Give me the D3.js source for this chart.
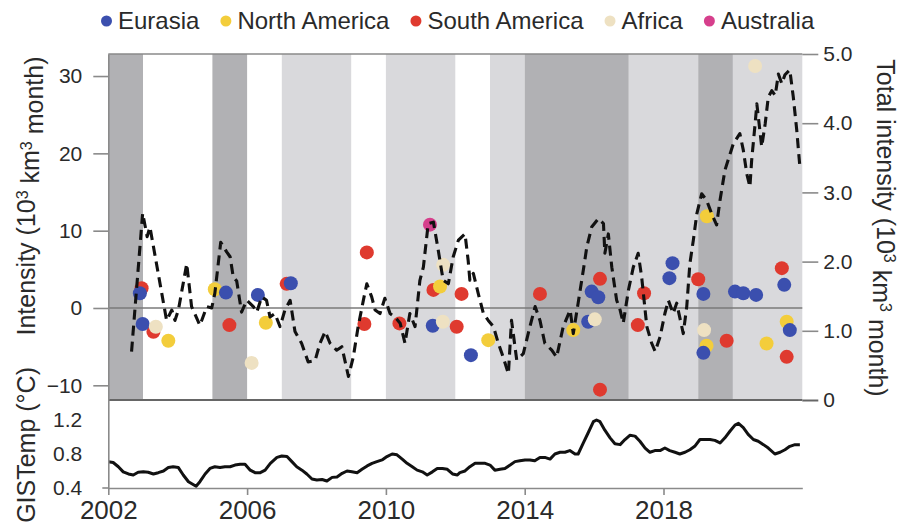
<!DOCTYPE html>
<html><head><meta charset="utf-8">
<script src="https://cdn.jsdelivr.net/npm/d3@7"></script>
<style>
body{margin:0;background:#fff}
svg{display:block}
text{font-family:"Liberation Sans",Arial,Helvetica,sans-serif}
</style>
</head><body>
<svg id="chart" width="903" height="525"></svg>
<script>
// ---------- data ----------
const regions = ["Eurasia","North America","South America","Africa","Australia"];

const eurasiaYears  = [2002.91,2002.99,2005.39,2006.31,2007.26,2011.35,2012.45,2015.83,2015.93,2016.12,2018.17,2018.26,2019.15,2019.15,2020.06,2020.30,2020.67,2021.48,2021.64];
const eurasiaValues = [1.91,-2.08,1.99,1.69,3.2,-2.29,-6.1,-1.78,2.12,1.39,3.86,5.8,1.82,-5.8,2.12,1.91,1.69,2.99,-2.86];

const northAmericaYears  = [2003.73,2005.07,2006.54,2011.56,2012.95,2015.40,2019.25,2019.24,2020.97,2021.55];
const northAmericaValues = [-4.24,2.42,-1.90,2.77,-4.16,-2.86,11.86,-4.89,-4.59,-1.78];

const southAmericaYears  = [2002.96,2003.30,2005.49,2007.14,2009.38,2009.45,2010.39,2011.37,2012.04,2012.18,2014.44,2016.17,2016.17,2017.26,2017.44,2019.00,2019.82,2021.41,2021.55];
const southAmericaValues = [2.56,-3.08,-2.21,3.12,-2.08,7.19,-1.99,2.34,-2.42,1.82,1.82,3.77,-10.56,-2.21,1.91,3.72,-4.24,5.15,-6.32];

const africaYears  = [2003.37,2006.13,2011.64,2011.65,2016.02,2019.17,2020.64];
const africaValues = [-2.43,-7.10,-1.78,5.58,-1.47,-2.86,31.3];

const australiaYears  = [2011.27];
const australiaValues = [10.78];

const totalYears = [2002.67,2002.99,2003.12,2003.20,2003.68,2003.83,2003.92,2004.02,2004.26,2004.40,2004.64,2004.84,2004.98,2005.07,2005.24,2005.41,2005.51,2005.60,2005.70,2005.84,2005.99,2006.18,2006.28,2006.42,2006.56,2006.66,2006.80,2006.95,2007.09,2007.24,2007.38,2007.57,2007.76,2007.96,2008.10,2008.25,2008.39,2008.58,2008.73,2008.92,2009.06,2009.20,2009.35,2009.45,2009.59,2009.69,2009.83,2009.97,2010.12,2010.26,2010.41,2010.55,2010.69,2010.84,2010.98,2011.08,2011.22,2011.37,2011.51,2011.65,2011.80,2011.94,2012.09,2012.28,2012.37,2012.42,2012.52,2012.66,2012.81,2012.95,2013.10,2013.24,2013.38,2013.53,2013.62,2013.77,2013.96,2014.15,2014.30,2014.44,2014.58,2014.78,2014.92,2015.11,2015.31,2015.40,2015.54,2015.69,2015.79,2015.93,2016.12,2016.27,2016.31,2016.41,2016.51,2016.65,2016.75,2016.84,2016.99,2017.13,2017.27,2017.37,2017.52,2017.66,2017.76,2017.90,2018.04,2018.14,2018.28,2018.38,2018.57,2018.67,2018.76,2018.86,2018.96,2019.10,2019.24,2019.39,2019.53,2019.63,2019.77,2020.01,2020.20,2020.30,2020.40,2020.49,2020.54,2020.64,2020.69,2020.83,2020.93,2021.02,2021.12,2021.22,2021.31,2021.41,2021.50,2021.64,2021.74,2021.84,2021.93];
const totalValues = [0.70,2.70,2.36,2.50,1.15,1.30,1.15,1.30,1.97,1.35,1.08,1.35,1.33,1.54,2.28,2.14,2.07,1.78,1.72,1.27,1.44,1.35,1.27,1.49,1.44,1.20,1.25,1.06,1.30,1.44,0.99,0.82,0.55,0.57,0.82,0.99,0.82,0.72,0.77,0.34,0.62,1.06,1.44,1.68,1.49,1.30,1.25,1.47,1.25,1.20,1.11,0.82,1.25,1.06,1.73,1.92,2.55,2.57,2.16,1.73,1.68,2.07,2.31,2.40,2.02,1.73,1.83,1.54,1.25,1.15,1.06,0.82,0.62,0.38,1.15,0.58,0.67,1.06,1.35,1.15,0.82,0.72,0.62,1.06,1.30,0.96,1.40,1.88,2.21,2.50,2.62,2.55,2.12,2.40,1.92,1.44,1.30,1.11,1.59,1.92,2.12,1.78,1.06,0.82,0.70,0.91,1.25,1.44,1.25,1.40,0.96,1.35,1.97,2.31,2.69,2.98,2.89,2.69,2.53,2.89,3.32,3.70,3.85,3.61,3.27,3.08,3.46,3.99,4.28,3.66,3.99,4.38,4.47,4.40,4.71,4.57,4.70,4.77,4.38,3.90,3.37];

const gisYears = [2002.00,2002.14,2002.29,2002.43,2002.58,2002.72,2002.86,2003.01,2003.15,2003.30,2003.44,2003.59,2003.73,2003.87,2004.02,2004.16,2004.31,2004.53,2004.64,2004.79,2004.93,2005.07,2005.22,2005.36,2005.51,2005.65,2005.80,2005.94,2006.09,2006.23,2006.38,2006.52,2006.67,2006.86,2007.00,2007.15,2007.29,2007.43,2007.58,2007.72,2007.87,2008.01,2008.16,2008.30,2008.45,2008.59,2008.74,2008.88,2009.02,2009.17,2009.31,2009.46,2009.60,2009.74,2009.89,2010.03,2010.18,2010.32,2010.47,2010.61,2010.76,2010.90,2011.05,2011.19,2011.34,2011.48,2011.63,2011.77,2011.92,2012.06,2012.13,2012.28,2012.42,2012.57,2012.71,2012.86,2013.00,2013.14,2013.29,2013.43,2013.58,2013.72,2013.86,2014.01,2014.15,2014.29,2014.44,2014.58,2014.73,2014.87,2015.02,2015.16,2015.30,2015.45,2015.54,2015.69,2015.83,2015.98,2016.07,2016.17,2016.31,2016.46,2016.60,2016.75,2016.89,2017.03,2017.18,2017.32,2017.47,2017.61,2017.75,2017.90,2018.04,2018.18,2018.33,2018.47,2018.62,2018.76,2018.90,2019.05,2019.19,2019.34,2019.48,2019.63,2019.77,2019.92,2020.06,2020.16,2020.30,2020.44,2020.59,2020.73,2020.88,2021.02,2021.21,2021.36,2021.50,2021.64,2021.79,2021.93];
const gisValues = [0.709,0.70,0.65,0.59,0.565,0.553,0.585,0.59,0.585,0.565,0.58,0.60,0.64,0.65,0.64,0.553,0.474,0.42,0.474,0.565,0.63,0.65,0.64,0.65,0.65,0.67,0.68,0.68,0.61,0.58,0.58,0.61,0.69,0.76,0.776,0.77,0.71,0.65,0.61,0.565,0.506,0.494,0.50,0.482,0.525,0.53,0.573,0.60,0.59,0.58,0.62,0.66,0.69,0.71,0.73,0.77,0.80,0.79,0.74,0.69,0.65,0.61,0.59,0.553,0.59,0.63,0.63,0.62,0.565,0.553,0.58,0.60,0.65,0.69,0.69,0.69,0.67,0.61,0.62,0.63,0.67,0.71,0.72,0.73,0.73,0.72,0.76,0.76,0.74,0.80,0.82,0.82,0.84,0.80,0.80,0.93,1.05,1.18,1.20,1.18,1.08,0.99,0.92,0.91,0.97,1.02,1.01,0.95,0.87,0.82,0.84,0.84,0.87,0.84,0.82,0.80,0.82,0.85,0.89,0.97,0.97,0.97,0.96,0.93,0.99,1.07,1.14,1.16,1.11,1.03,0.97,0.95,0.91,0.87,0.80,0.82,0.85,0.89,0.91,0.91];

const bandStarts = [2002,2005,2007,2010,2013,2014,2017,2019,2020];
const bandEnds   = [2003,2006,2009,2012,2014,2017,2019,2020,2022];
const bandTypes  = ["strong","strong","weak","weak","weak","strong","weak","strong","weak"];

const intensityTicks = [-10,0,10,20,30];
const totalTicks = [0,1,2,3,4,5];
const gisTicks = [0.4,0.8,1.2];
const yearTicks = [2002,2006,2010,2014,2018];

// ---------- styles ----------
const regionColors = {"Eurasia":"#3b4fae","North America":"#f3cd3b","South America":"#df3a2f","Africa":"#eee1c2","Australia":"#d63f8c"};
const bandColors = {strong:"#b1b1b4", weak:"#d9d9dc"};
const axisGray = "#8a8a8a";
const labelColor = "#2a2a2a";

const svg = d3.select("#chart");
const x = d3.scaleLinear().domain([2002,2022]).range([108.3,802.3]);
const yL = d3.scaleLinear().domain([-11.9,32.85]).range([400,54]);
const yR = d3.scaleLinear().domain([0,5]).range([400,54]);
const yG = d3.scaleLinear().domain([0.4,1.435]).range([488,400]);

// bands
const bands = bandStarts.map((s,i)=>({s, e:bandEnds[i], t:bandTypes[i]}));
svg.append("g").selectAll("rect").data(bands).join("rect")
  .attr("x", d=>x(d.s)).attr("width", d=>x(d.e)-x(d.s))
  .attr("y", yR(5)).attr("height", yR(0)-yR(5))
  .attr("fill", d=>bandColors[d.t]);

// zero line
svg.append("line").attr("x1",x(2002)).attr("x2",x(2022))
  .attr("y1",yL(0)).attr("y2",yL(0)).attr("stroke","#7a7a7a").attr("stroke-width",1.6);

// dots
const seriesList = [
  {name:"South America", years:southAmericaYears, values:southAmericaValues},
  {name:"North America", years:northAmericaYears, values:northAmericaValues},
  {name:"Eurasia", years:eurasiaYears, values:eurasiaValues},
  {name:"Africa", years:africaYears, values:africaValues},
  {name:"Australia", years:australiaYears, values:australiaValues}
];
seriesList.forEach(s=>{
  const pts = s.years.map((yr,i)=>({yr, v:s.values[i]}));
  svg.append("g").selectAll("circle").data(pts).join("circle")
    .attr("cx", d=>x(d.yr)).attr("cy", d=>yL(d.v)).attr("r",7)
    .attr("fill", regionColors[s.name]);
});

// dashed total line
const totalPts = totalYears.map((yr,i)=>({yr, v:totalValues[i]}));
svg.append("path").datum(totalPts)
  .attr("d", d3.line().x(d=>x(d.yr)).y(d=>yR(d.v)))
  .attr("fill","none").attr("stroke","#111").attr("stroke-width",3.1)
  .attr("stroke-dasharray","10,6").attr("stroke-linejoin","round");

// frame top
svg.append("line").attr("x1",x(2002)).attr("x2",x(2022)).attr("y1",yR(5)).attr("y2",yR(5))
  .attr("stroke",axisGray).attr("stroke-width",1.6);
// bottom of top panel
svg.append("line").attr("x1",x(2002)).attr("x2",x(2022)).attr("y1",yR(0)).attr("y2",yR(0))
  .attr("stroke","#666").attr("stroke-width",2);

function styleAxis(g, fs){
  g.selectAll("path.domain").attr("stroke",axisGray).attr("stroke-width",1.6);
  g.selectAll(".tick line").attr("stroke",axisGray).attr("stroke-width",1.6);
  g.selectAll(".tick text").attr("fill",labelColor)
    .style("font-family",'"Liberation Sans",Arial,sans-serif').style("font-size",fs+"px");
}

// left axis top panel
const gL = svg.append("g").attr("transform",`translate(${x(2002)},0)`)
  .call(d3.axisLeft(yL).tickValues(intensityTicks).tickSize(15).tickSizeOuter(0).tickPadding(11).tickFormat(d3.format("d")));
styleAxis(gL,21);

// right axis
const gR = svg.append("g").attr("transform",`translate(${x(2022)},0)`)
  .call(d3.axisRight(yR).tickValues(totalTicks).tickSize(16).tickSizeOuter(0).tickPadding(5)
    .tickFormat(d=> d===0 ? "0" : d3.format(".1f")(d)));
styleAxis(gR,21);
gR.select("path.domain").remove();
gR.selectAll(".tick").filter(d=>d===0).select("line").attr("stroke","#666").attr("stroke-width",2);

// bottom panel
const gisPts = gisYears.map((yr,i)=>({yr, v:gisValues[i]}));
svg.append("path").datum(gisPts)
  .attr("d", d3.line().x(d=>x(d.yr)).y(d=>yG(d.v)))
  .attr("fill","none").attr("stroke","#111").attr("stroke-width",3).attr("stroke-linejoin","round");

const gG = svg.append("g").attr("transform",`translate(${x(2002)},0)`)
  .call(d3.axisLeft(yG).tickValues(gisTicks).tickSize(0).tickSizeOuter(0).tickPadding(26).tickFormat(d3.format(".1f")));
styleAxis(gG,21);

const gX = svg.append("g").attr("transform",`translate(0,${yG(0.4)})`)
  .call(d3.axisBottom(x).tickValues(yearTicks).tickSize(7).tickSizeOuter(0).tickPadding(6).tickFormat(d3.format("d")));
styleAxis(gX,26);
svg.append("line").attr("x1",x(2002)-6).attr("x2",x(2002)).attr("y1",yG(0.4)).attr("y2",yG(0.4))
  .attr("stroke",axisGray).attr("stroke-width",1.6);

// axis titles
const lt = svg.append("text").attr("transform","translate(35,196) rotate(-90)")
  .attr("text-anchor","middle").attr("fill",labelColor).style("font-size","25px");
lt.append("tspan").text("Intensity (10");
lt.append("tspan").attr("dy","-0.45em").style("font-size","16px").text("3");
lt.append("tspan").attr("dy","0.45em").text(" km");
lt.append("tspan").attr("dy","-0.45em").style("font-size","16px").text("3");
lt.append("tspan").attr("dy","0.45em").text(" month)");

const rt = svg.append("text").attr("transform","translate(877,228) rotate(90)")
  .attr("text-anchor","middle").attr("fill",labelColor).style("font-size","25px");
rt.append("tspan").text("Total intensity (10");
rt.append("tspan").attr("dy","-0.45em").style("font-size","16px").text("3");
rt.append("tspan").attr("dy","0.45em").text(" km");
rt.append("tspan").attr("dy","-0.45em").style("font-size","16px").text("3");
rt.append("tspan").attr("dy","0.45em").text(" month)");

svg.append("text").attr("transform","translate(35,367) rotate(-90)")
  .attr("text-anchor","end").attr("fill",labelColor).style("font-size","25px")
  .text("GISTemp (°C)");

// legend
const lg = svg.append("g");
let lx = 101;
regions.forEach(r=>{
  lg.append("circle").attr("cx",lx+5.5).attr("cy",21).attr("r",5.5).attr("fill",regionColors[r]);
  const t = lg.append("text").attr("x",lx+17).attr("y",29).attr("fill",labelColor)
    .style("font-size","24px").text(r);
  lx += 17 + t.node().getComputedTextLength() + 21;
});
</script>
</body></html>
